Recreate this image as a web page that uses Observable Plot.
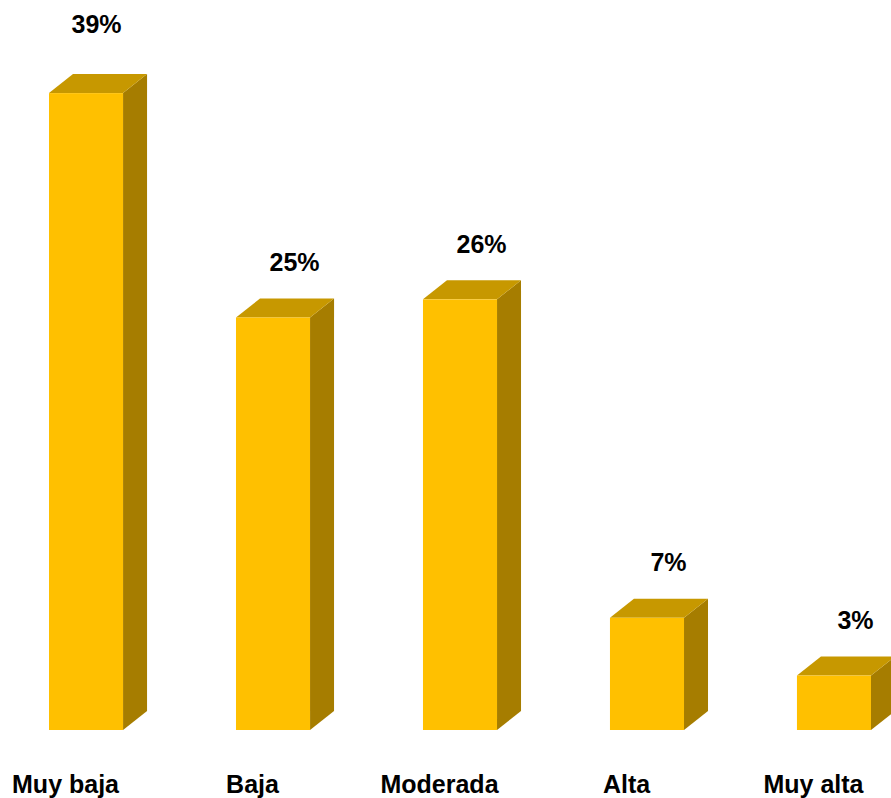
<!DOCTYPE html>
<html>
<head>
<meta charset="utf-8">
<script src="https://cdn.jsdelivr.net/npm/d3@7"></script>
<script src="https://cdn.jsdelivr.net/npm/@observablehq/plot@0.6"></script>
<style>
  html, body { margin: 0; padding: 0; background: #ffffff; overflow: hidden; }
  #chart svg { display: block; }
</style>
</head>
<body>
<div id="chart"></div>
<script>
const categories = ["Muy baja", "Baja", "Moderada", "Alta", "Muy alta"];
const values = [38.6, 25.0, 26.1, 6.8, 3.3];
const valueLabels = ["39%", "25%", "26%", "7%", "3%"];

const data = categories.map((c, i) => ({ category: c, value: values[i], label: valueLabels[i] }));

const FRONT = "#FFC000";
const TOP = "#C79800";
const SIDE = "#A67D00";
const DEPTH_X = 24, DEPTH_Y = 19;
const FONT = "'Liberation Sans', Arial, sans-serif";

function depthFaces(index, scales) {
  const x = scales.x, y = scales.y;
  const bw = x.bandwidth();
  const g = d3.create("svg:g");
  for (const d of data) {
    const x0 = x(d.category), x1 = x0 + bw;
    const yt = y(d.value), yb = y(0);
    g.append("polygon")
      .attr("points", [[x1, yt], [x1 + DEPTH_X, yt - DEPTH_Y], [x1 + DEPTH_X, yb - DEPTH_Y], [x1, yb]].map(p => p.join(",")).join(" "))
      .attr("fill", SIDE);
    g.append("polygon")
      .attr("points", [[x0, yt], [x0 + DEPTH_X, yt - DEPTH_Y], [x1 + DEPTH_X, yt - DEPTH_Y], [x1, yt]].map(p => p.join(",")).join(" "))
      .attr("fill", TOP);
  }
  return g.node();
}

const chart = Plot.plot({
  width: 891,
  height: 798,
  marginLeft: 49,
  marginRight: 20,
  marginTop: 70,
  marginBottom: 68,
  style: { fontFamily: FONT, background: "#ffffff" },
  x: { domain: categories, paddingInner: 0.604, paddingOuter: 0, round: false, axis: null },
  y: { domain: [0, 40], axis: null },
  marks: [
    depthFaces,
    Plot.barY(data, { x: "category", y: "value", fill: FRONT, insetLeft: 0, insetRight: 0 }),
    Plot.text(data.filter((d, i) => i === 0), {
      x: "category", y: "value", text: "label", dx: 10, dy: -69,
      fontSize: 25, fontWeight: "bold", fill: "#000000"
    }),
    Plot.text(data.filter((d, i) => i > 0), {
      x: "category", y: "value", text: "label", dx: 21, dy: -55,
      fontSize: 25, fontWeight: "bold", fill: "#000000"
    }),
    Plot.text(data, {
      x: "category", y: () => 0, text: "category", dx: -21, dy: 54,
      fontSize: 25, fontWeight: "bold", fill: "#000000"
    })
  ]
});

document.getElementById("chart").appendChild(chart);
</script>
</body>
</html>
